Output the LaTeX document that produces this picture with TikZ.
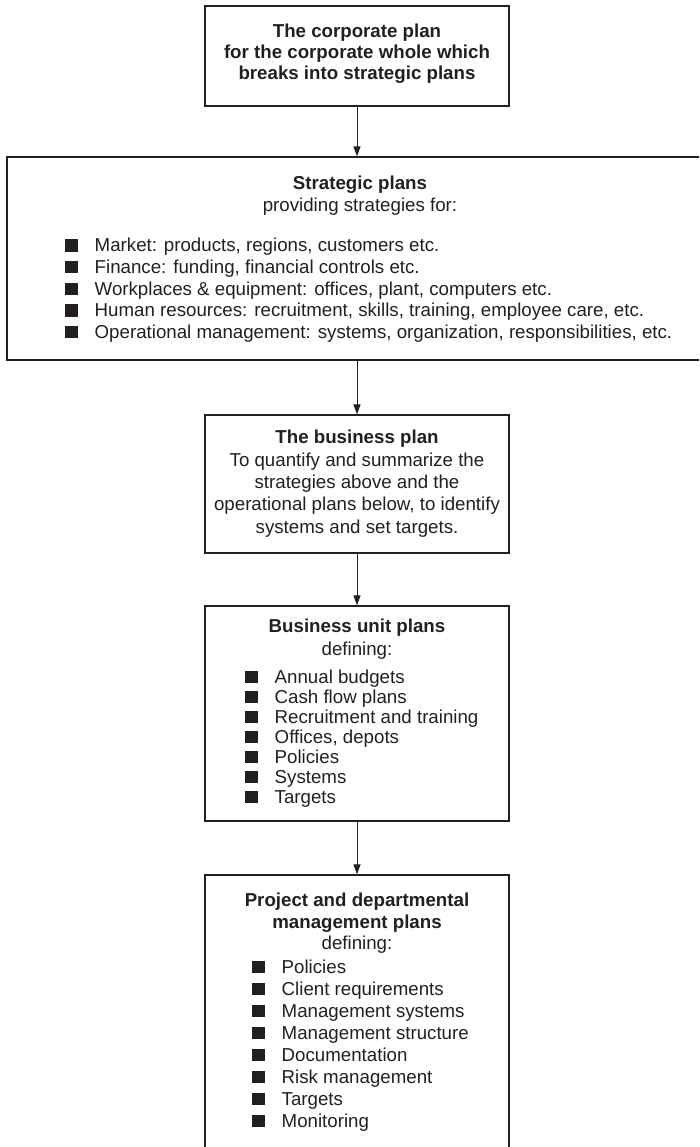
\documentclass[tikz,border=0pt]{standalone}
\usepackage{fontspec}
\setmainfont{Liberation Sans}
\usetikzlibrary{arrows.meta}
\definecolor{ink}{RGB}{35,31,32}
\newcommand\sqbul{\rule{12.5pt}{12.5pt}\hspace{17pt}}
\begin{document}
\begin{tikzpicture}[x=1pt,y=-1pt,
  box/.style={draw=ink, line width=1.3pt, inner sep=0pt},
  txt/.style={inner sep=0pt, anchor=base, text=ink, font=\fontsize{18.7}{21.5}\selectfont},
  btxt/.style={txt, font=\fontsize{18.7}{21.5}\selectfont\bfseries},
  ltxt/.style={txt, anchor=base west},
  arr/.style={draw=ink, line width=1pt, -{Triangle[length=10pt,width=7pt]}}]
\useasboundingbox (0,0) rectangle (699,1147);
\clip (0,0) rectangle (699,1147);
% boxes
\node[box, minimum width=304pt, minimum height=100pt] (b1) at (357,56) {};
\node[box, minimum width=700pt, minimum height=203pt] (b2) at (357,258.5) {};
\node[box, minimum width=304pt, minimum height=138pt] (b3) at (357,484) {};
\node[box, minimum width=304pt, minimum height=215pt] (b4) at (357,713.5) {};
\node[box, minimum width=304pt, minimum height=285pt] (b5) at (357,1017.5) {};
% arrows
\draw[arr] (b1.south) -- (b2.north);
\draw[arr] (b2.south) -- (b3.north);
\draw[arr] (b3.south) -- (b4.north);
\draw[arr] (b4.south) -- (b5.north);
% box 1
\node[btxt] (t1a) at (357,38) {The corporate plan};
\node[btxt] (t1b) at (357,59) {for the corporate whole which};
\node[btxt] (t1c) at (357,80) {breaks into strategic plans};
% box 2
\node[btxt] (t2a) at (360,190) {Strategic plans};
\node[txt] (t2b) at (360,212) {providing strategies for:};
\node[ltxt] (t2c) at (65,252) {\sqbul Market: products, regions, customers etc.};
\node[ltxt] (t2d) at (65,273.5) {\sqbul Finance: funding, financial controls etc.};
\node[ltxt] (t2e) at (65,295) {\sqbul Workplaces \& equipment: offices, plant, computers etc.};
\node[ltxt] (t2f) at (65,316.5) {\sqbul Human resources: recruitment, skills, training, employee care, etc.};
\node[ltxt] (t2g) at (65,338) {\sqbul Operational management: systems, organization, responsibilities, etc.};
% box 3
\node[btxt] (t3a) at (357,443) {The business plan};
\node[txt] (t3b) at (357,466) {To quantify and summarize the};
\node[txt] (t3c) at (357,488) {strategies above and the};
\node[txt] (t3d) at (357,510) {operational plans below, to identify};
\node[txt] (t3e) at (357,533) {systems and set targets.};
% box 4
\node[btxt] (t4a) at (357,632) {Business unit plans};
\node[txt] (t4b) at (357,655) {defining:};
\node[ltxt] (t4c) at (245,683) {\sqbul Annual budgets};
\node[ltxt] (t4d) at (245,703) {\sqbul Cash flow plans};
\node[ltxt] (t4e) at (245,723) {\sqbul Recruitment and training};
\node[ltxt] (t4f) at (245,743) {\sqbul Offices, depots};
\node[ltxt] (t4g) at (245,763) {\sqbul Policies};
\node[ltxt] (t4h) at (245,783) {\sqbul Systems};
\node[ltxt] (t4i) at (245,803) {\sqbul Targets};
% box 5
\node[btxt] (t5a) at (357,906) {Project and departmental};
\node[btxt] (t5b) at (357,928) {management plans};
\node[txt] (t5c) at (357,949) {defining:};
\node[ltxt] (t5d) at (252,973) {\sqbul Policies};
\node[ltxt] (t5e) at (252,995) {\sqbul Client requirements};
\node[ltxt] (t5f) at (252,1017) {\sqbul Management systems};
\node[ltxt] (t5g) at (252,1039) {\sqbul Management structure};
\node[ltxt] (t5h) at (252,1061) {\sqbul Documentation};
\node[ltxt] (t5i) at (252,1083) {\sqbul Risk management};
\node[ltxt] (t5j) at (252,1105) {\sqbul Targets};
\node[ltxt] (t5k) at (252,1127) {\sqbul Monitoring};
\end{tikzpicture}
\end{document}
